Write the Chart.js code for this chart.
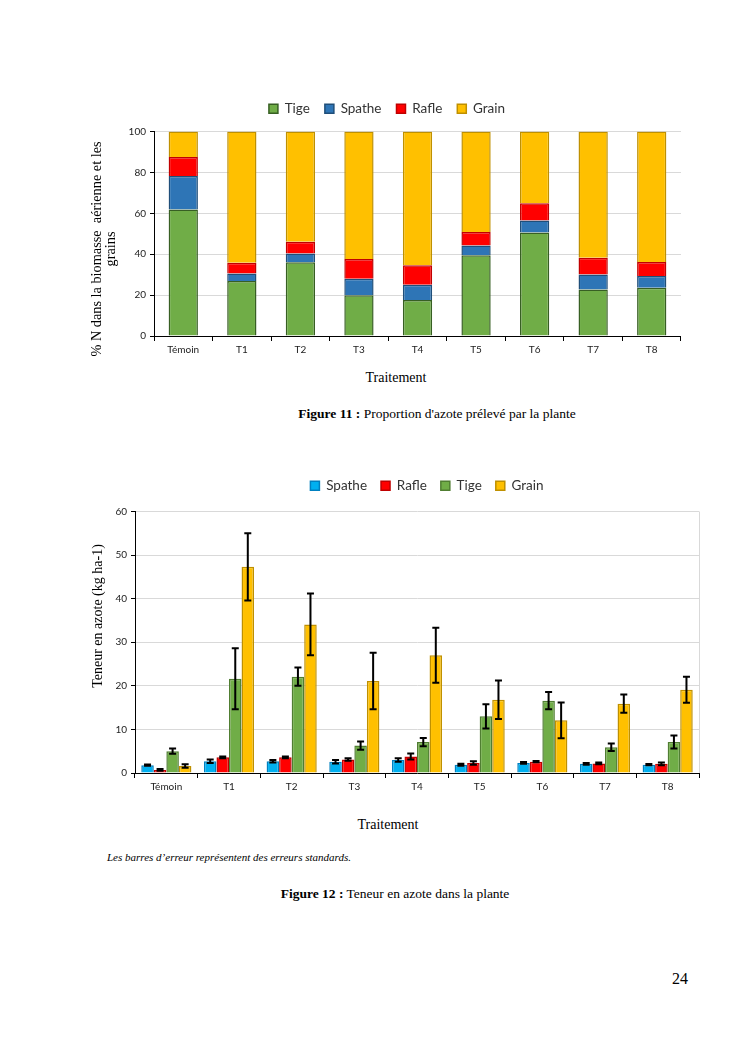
<!DOCTYPE html>
<html>
<head>
<meta charset="utf-8">
<script src="https://cdn.jsdelivr.net/npm/chart.js@4.4.1/dist/chart.umd.min.js"></script>
<style>
  html, body { margin: 0; padding: 0; background: #fff; }
  body { width: 745px; height: 1053px; position: relative; overflow: hidden; font-family: "Liberation Serif", "DejaVu Serif", serif; color: #000; }
  .abs { position: absolute; }
  .wrap { position: absolute; }
  .serif { font-family: "Liberation Serif", serif; }
  .ctr { transform: translate(-50%, -50%); white-space: nowrap; }
  .rot { transform: translate(-50%, -50%) rotate(-90deg); text-align: center; white-space: nowrap; }
</style>
</head>
<body>
<div class="wrap" id="w1" style="left:93px; top:87px; width:588px; height:279px;"><canvas id="c1"></canvas></div>
<div class="wrap" id="w2" style="left:108px; top:465px; width:638px; height:338px;"><canvas id="c2"></canvas></div>

<div class="abs rot serif" style="left:103px; top:249px; font-size:14.3px; line-height:14px;">% N dans la biomasse&nbsp; aérienne et les<br>grains</div>
<div class="abs ctr serif" style="left:396px; top:378px; font-size:14px;">Traitement</div>
<div class="abs ctr serif" style="left:437px; top:414px; font-size:13.5px;"><b>Figure 11 :</b> Proportion d'azote prélevé par la plante</div>

<div class="abs rot serif" style="left:98px; top:616px; font-size:14px;">Teneur en azote (kg ha-1)</div>
<div class="abs ctr serif" style="left:388px; top:825px; font-size:14px;">Traitement</div>
<div class="abs serif" style="left:107px; top:851px; font-size:11px; font-style:italic;">Les barres d’erreur représentent des erreurs standards.</div>
<div class="abs ctr serif" style="left:395px; top:894px; font-size:13.5px;"><b>Figure 12 :</b> Teneur en azote dans la plante</div>

<div class="abs serif" style="left:672px; top:970px; font-size:16px;">24</div>

<script>
// ---------- Data ----------
const categories = ['Témoin', 'T1', 'T2', 'T3', 'T4', 'T5', 'T6', 'T7', 'T8'];

// Figure 11 : % N (stacked to 100)
const pctTige   = [61.8, 26.9, 36.1, 19.9, 17.6, 39.5, 50.6, 22.7, 23.6];
const pctSpathe = [16.4,  3.7,  4.2,  8.1,  7.5,  4.8,  5.9,  7.4,  5.7];
const pctRafle  = [ 9.3,  5.2,  5.8,  9.7,  9.5,  6.5,  8.4,  8.2,  6.9];
const pctGrain  = [12.5, 64.2, 53.9, 62.3, 65.4, 49.2, 35.1, 61.7, 63.8];
const pctTicks  = [0, 20, 40, 60, 80, 100];

// Figure 12 : N content (kg/ha) with standard errors
const nSpathe   = [1.8, 2.7, 2.7, 2.6, 3.0, 1.9, 2.3, 2.1, 1.9];
const nRafle    = [0.7, 3.6, 3.6, 3.1, 3.8, 2.3, 2.6, 2.2, 2.1];
const nTige     = [5.0, 21.6, 22.1, 6.3, 7.1, 13.0, 16.6, 5.9, 7.1];
const nGrain    = [1.6, 47.3, 34.1, 21.1, 27.0, 16.8, 12.1, 15.9, 19.1];
const errSpathe = [0.15, 0.4, 0.3, 0.4, 0.4, 0.25, 0.2, 0.2, 0.15];
const errRafle  = [0.2, 0.2, 0.2, 0.3, 0.7, 0.4, 0.15, 0.2, 0.3];
const errTige   = [0.6, 7.0, 2.1, 0.95, 0.95, 2.8, 2.0, 0.85, 1.5];
const errGrain  = [0.4, 7.7, 7.1, 6.5, 6.3, 4.4, 4.1, 2.1, 3.0];
const nTicks    = [0, 10, 20, 30, 40, 50, 60];

// ---------- Styles ----------
const GRID = '#d9d9d9';
const TICKFONT = { family: 'Lato, "Open Sans", sans-serif', size: 10 };
const LEGFONT = { family: 'Lato, "Open Sans", sans-serif', size: 13.5 };

function legendExtra(px) {
  return {
    id: 'legendExtra',
    beforeInit(chart) {
      const orig = chart.legend.fit;
      chart.legend.fit = function () { orig.call(this); this.height += px; };
    }
  };
}
const rightBorder = {
  id: 'rightBorder',
  afterDatasetsDraw(chart) {
    const { ctx, chartArea: a } = chart;
    ctx.save();
    ctx.strokeStyle = GRID; ctx.lineWidth = 1;
    ctx.beginPath(); ctx.moveTo(a.right + 0.5, a.top); ctx.lineTo(a.right + 0.5, a.bottom); ctx.stroke();
    ctx.restore();
  }
};
const errorBars = {
  id: 'errorBars',
  afterDatasetsDraw(chart) {
    const { ctx } = chart;
    const y = chart.scales.y;
    ctx.save();
    ctx.strokeStyle = '#000'; ctx.lineWidth = 2;
    chart.data.datasets.forEach((ds, i) => {
      if (!ds.errors) return;
      const meta = chart.getDatasetMeta(i);
      meta.data.forEach((el, j) => {
        const v = ds.data[j], e = ds.errors[j];
        const x = el.x;
        const yt = y.getPixelForValue(v + e), yb = y.getPixelForValue(v - e);
        const cw = 3.5;
        ctx.beginPath();
        ctx.moveTo(x, yt); ctx.lineTo(x, yb);
        ctx.moveTo(x - cw, yt); ctx.lineTo(x + cw, yt);
        ctx.moveTo(x - cw, yb); ctx.lineTo(x + cw, yb);
        ctx.stroke();
      });
    });
    ctx.restore();
  }
};

function xScale(stacked) {
  return {
    stacked,
    offset: true,
    grid: { display: true, drawOnChartArea: false, drawTicks: true, tickLength: 5, tickColor: '#000', offset: true },
    border: { display: true, color: '#000', width: 1 },
    ticks: { font: TICKFONT, color: '#222', padding: 3, maxRotation: 0, autoSkip: false },
    afterFit(s) { s.height = 30; }
  };
}
function yScale(stacked, ticksArr, yWidth) {
  return {
    stacked,
    min: ticksArr[0], max: ticksArr[ticksArr.length - 1],
    afterBuildTicks(s) { s.ticks = ticksArr.map(v => ({ value: v })); },
    grid: { color: GRID, lineWidth: 1, drawTicks: true, tickLength: 4, tickColor: '#000' },
    border: { display: true, color: '#000', width: 1 },
    ticks: { font: TICKFONT, color: '#222', padding: 4 },
    afterFit(s) { s.width = yWidth; }
  };
}

// ---------- Figure 11 ----------
new Chart(document.getElementById('c1'), {
  type: 'bar',
  data: {
    labels: categories,
    datasets: [
      { label: 'Tige',   data: pctTige,   backgroundColor: '#70ad47', borderColor: '#375f23', borderWidth: 1.5 },
      { label: 'Spathe', data: pctSpathe, backgroundColor: '#2e75b6', borderColor: '#1f4e79', borderWidth: 1.5 },
      { label: 'Rafle',  data: pctRafle,  backgroundColor: '#ff0000', borderColor: '#c00000', borderWidth: 1.5 },
      { label: 'Grain',  data: pctGrain,  backgroundColor: '#ffc000', borderColor: '#bf9000', borderWidth: 1.5 }
    ]
  },
  options: {
    responsive: true, maintainAspectRatio: false, animation: false,
    devicePixelRatio: 1,
    layout: { padding: 0 },
    datasets: { bar: { categoryPercentage: 0.5, barPercentage: 1.0 } },
    plugins: {
      legend: { position: 'top', labels: { font: LEGFONT, color: '#333', boxWidth: 9, boxHeight: 9, padding: 15 } },
      tooltip: { enabled: false }
    },
    scales: { x: xScale(true), y: yScale(true, pctTicks, 61) }
  },
  plugins: [legendExtra(6), rightBorder]
});

// ---------- Figure 12 ----------
new Chart(document.getElementById('c2'), {
  type: 'bar',
  data: {
    labels: categories,
    datasets: [
      { label: 'Spathe', data: nSpathe, errors: errSpathe, backgroundColor: '#00b0f0', borderColor: '#0080c0', borderWidth: 1.5 },
      { label: 'Rafle',  data: nRafle,  errors: errRafle,  backgroundColor: '#ff0000', borderColor: '#c00000', borderWidth: 1.5 },
      { label: 'Tige',   data: nTige,   errors: errTige,   backgroundColor: '#70ad47', borderColor: '#507e32', borderWidth: 1.5 },
      { label: 'Grain',  data: nGrain,  errors: errGrain,  backgroundColor: '#ffc000', borderColor: '#bf9000', borderWidth: 1.5 }
    ]
  },
  options: {
    responsive: true, maintainAspectRatio: false, animation: false,
    devicePixelRatio: 1,
    layout: { padding: 0 },
    datasets: { bar: { categoryPercentage: 0.8, barPercentage: 1.0 } },
    plugins: {
      legend: { position: 'top', labels: { font: LEGFONT, color: '#333', boxWidth: 9, boxHeight: 9, padding: 14 } },
      tooltip: { enabled: false }
    },
    scales: {
      x: xScale(false),
      y: yScale(false, nTicks, 27),
      y2: {
        position: 'right', display: true, min: 0, max: 1,
        grid: { display: false, drawTicks: false }, border: { display: false },
        ticks: { display: false },
        afterFit(s) { s.width = 47; }
      }
    }
  },
  plugins: [legendExtra(9), rightBorder, errorBars]
});
</script>
</body>
</html>
